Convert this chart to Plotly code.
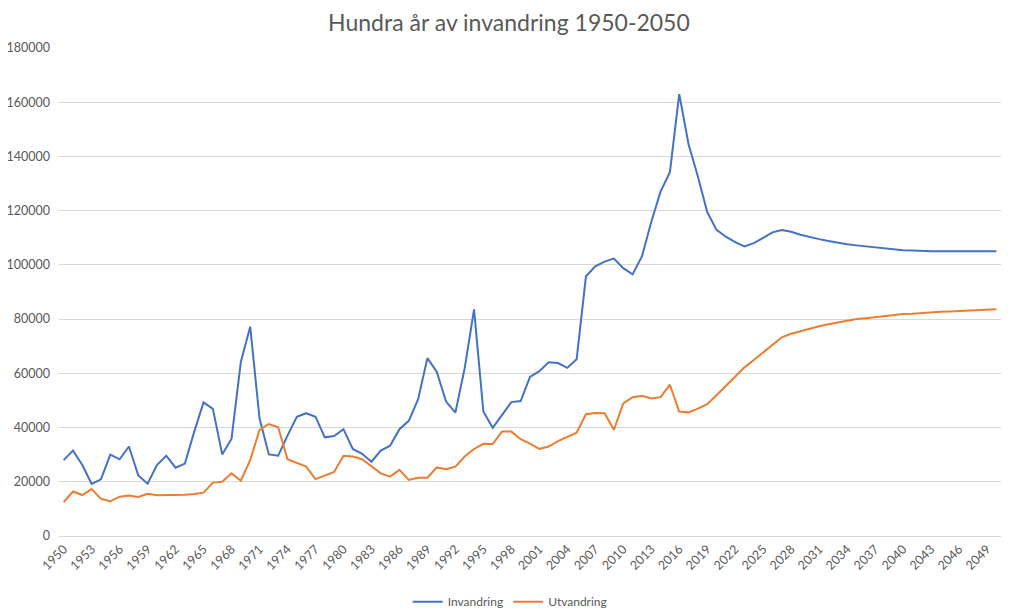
import plotly.graph_objects as go

years = list(range(1950, 2051))

invandring = [
    28000, 31500, 26200, 19200, 20900, 30000, 28300, 33000, 22300, 19300,  # 1950-1959
    26200, 29600, 25200, 26700, 38500, 49300, 46900, 30100, 35900, 64300,  # 1960-1969
    77200, 43400, 30100, 29600, 37000, 44000, 45300, 44000, 36400, 36900,  # 1970-1979
    39400, 32100, 30300, 27400, 31500, 33300, 39400, 42500, 50400, 65600,  # 1980-1989
    60600, 49600, 45500, 61900, 83600, 45900, 39900, 44800, 49400, 49800,  # 1990-1999
    58700, 60800, 64100, 63800, 62000, 65200, 95800, 99500, 101200, 102300,  # 2000-2009
    98800, 96500, 103100, 115800, 127000, 134200, 163000, 144500, 132600, 119500,  # 2010-2019
    112900, 110400, 108400, 106800, 108000, 110000, 112000, 112900, 112200, 111100,  # 2020-2029
    110200, 109500, 108800, 108100, 107600, 107200, 106800, 106400, 106000, 105700,  # 2030-2039
    105400, 105300, 105100, 105000, 105000, 105000, 105000, 105000, 105000, 105000,  # 2040-2049
    105000,  # 2050
]

utvandring = [
    12500, 16400, 15100, 17300, 13700, 12800, 14500, 14900, 14400, 15600,  # 1950-1959
    15000, 15000, 15000, 15200, 15500, 16000, 19700, 20000, 23100, 20400,  # 1960-1969
    28000, 39100, 41300, 40100, 28300, 27000, 25600, 21000, 22300, 23600,  # 1970-1979
    29600, 29300, 28300, 25600, 23100, 21900, 24400, 20700, 21500, 21500,  # 1980-1989
    25300, 24600, 25600, 29300, 32100, 34000, 33900, 38500, 38500, 35700,  # 1990-1999
    34100, 32100, 33000, 35000, 36600, 38100, 44900, 45400, 45300, 39200,  # 2000-2009
    48900, 51200, 51700, 50700, 51200, 55800, 45900, 45600, 47000, 48600,  # 2010-2019
    51900, 55400, 58900, 62200, 64900, 67700, 70700, 73300, 74600, 75600,  # 2020-2029
    76500, 77400, 78100, 78700, 79400, 80000, 80300, 80700, 81200, 81600,  # 2030-2039
    81900, 82000, 82300, 82500, 82700, 82800, 83000, 83100, 83200, 83400,  # 2040-2049
    83600,  # 2050
]

tick_years = list(range(1950, 2051, 3))
y_ticks = list(range(0, 180001, 20000))

title_text = "Hundra år av invandring 1950-2050"
series_names = ["Invandring", "Utvandring"]

fig = go.Figure()
fig.add_trace(go.Scatter(
    x=years, y=invandring, mode="lines", name=series_names[0],
    line=dict(color="#4472C4", width=2),
))
fig.add_trace(go.Scatter(
    x=years, y=utvandring, mode="lines", name=series_names[1],
    line=dict(color="#ED7D31", width=2),
))

font_family = "Lato, 'Open Sans', sans-serif"

fig.update_layout(
    width=1010, height=605,
    margin=dict(l=51, r=17, t=40, b=77, autoexpand=False),
    paper_bgcolor="white", plot_bgcolor="white",
    font=dict(family=font_family, color="#595959", size=12),
    title=dict(text=title_text, x=0.496, xanchor="center", y=0.975, yanchor="middle",
               xref="container", yref="container",
               font=dict(size=23, color="#595959", family=font_family)),
    showlegend=True,
    legend=dict(orientation="h", x=0.479, xanchor="center", y=-0.105, yanchor="top",
                font=dict(size=12, color="#595959"), itemwidth=30,
                tracegroupgap=0),
    hovermode="x unified",
)

fig.update_xaxes(
    range=[1949.5, 2050.5], automargin=False,
    tickmode="array", tickvals=tick_years, ticktext=[str(t) for t in tick_years],
    tickangle=-45, tickfont=dict(size=12.5, color="#595959"),
    showgrid=False, zeroline=False,
    showline=True, linecolor="#d9d9d9", linewidth=1,
    ticks="", ticklen=0,
)
fig.update_yaxes(
    range=[0, 180000], automargin=False,
    tickmode="array", tickvals=y_ticks, ticktext=[str(t) for t in y_ticks],
    tickfont=dict(size=12.5, color="#595959"),
    showgrid=True, gridcolor="#d9d9d9", gridwidth=1,
    zeroline=False, showline=False, ticks="", ticklabelstandoff=8,
)

fig.write_html("out.html")
